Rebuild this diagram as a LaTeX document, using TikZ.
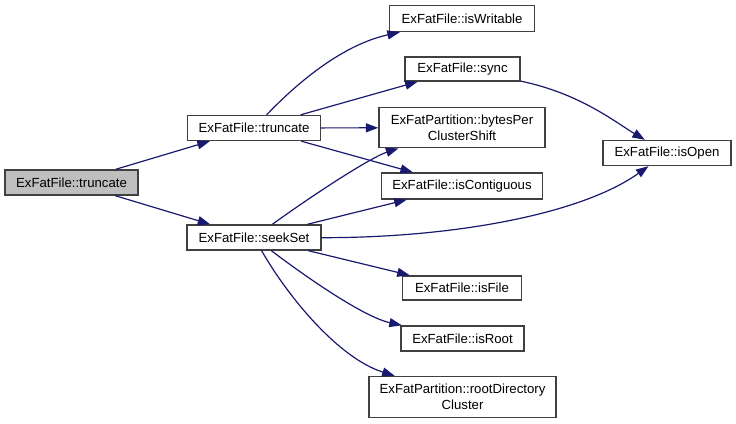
\documentclass[tikz,border=0pt]{standalone}
\usepackage{fontspec}
\setmainfont{Liberation Sans}
\usetikzlibrary{arrows.meta}
\definecolor{edgecol}{HTML}{191970}
\definecolor{nodeborder}{HTML}{404040}
\definecolor{rootfill}{HTML}{BFBFBF}
\tikzset{
  fn/.style={draw=nodeborder, line width=1.4pt, rectangle, inner sep=0pt, align=center,
    font=\fontsize{13.2}{16}\selectfont, fill=white},
  rootfn/.style={fn, fill=rootfill},
  call/.style={draw=edgecol, line width=1.2pt, -{Triangle[length=12.5pt,width=9pt]}},
}
\begin{document}
\begin{tikzpicture}[x=1pt,y=-1pt]
\useasboundingbox (0,0) rectangle (736,423);
\node[rootfn, minimum width=133pt, minimum height=25pt] (root) at (71.5,182.5) {ExFatFile::truncate};
\node[fn, minimum width=133pt, minimum height=25pt] (trunc) at (254,128) {ExFatFile::truncate};
\node[fn, minimum width=134pt, minimum height=25pt] (seek) at (254,237.5) {ExFatFile::seekSet};
\node[fn, minimum width=145pt, minimum height=26pt] (isW) at (462,18.5) {ExFatFile::isWritable};
\node[fn, minimum width=115pt, minimum height=24pt] (sync) at (462.5,69) {ExFatFile::sync};
\node[fn, minimum width=166pt, minimum height=40pt] (bytes) at (462,127.7) {ExFatPartition::bytesPer\\ClusterShift};
\node[fn, minimum width=161pt, minimum height=26pt] (isC) at (462,186) {ExFatFile::isContiguous};
\node[fn, minimum width=128pt, minimum height=25pt] (isOpen) at (667,153) {ExFatFile::isOpen};
\node[fn, minimum width=119pt, minimum height=24pt] (isFile) at (462,288) {ExFatFile::isFile};
\node[fn, minimum width=123pt, minimum height=25pt] (isRoot) at (462.5,338.5) {ExFatFile::isRoot};
\node[fn, minimum width=187pt, minimum height=41pt] (rootDir) at (462.5,397) {ExFatPartition::rootDirectory\\Cluster};

\draw[call] (root) -- (trunc);
\draw[call] (root) -- (seek);
\draw[call] (trunc) .. controls (300,80) and (344,44.5) .. (isW);
\draw[call] (trunc) -- (sync);
\draw[call] (trunc) -- (bytes);
\draw[call] (trunc) -- (isC);
\draw[call] (seek) .. controls (320,190) and (372,157) .. (bytes);
\draw[call] (seek) -- (isC);
\draw[call] (seek) .. controls (450,238) and (580,215) .. (isOpen);
\draw[call] (sync) .. controls (580,93.5) and (615,122) .. (isOpen);
\draw[call] (seek) -- (isFile);
\draw[call] (seek) .. controls (310,280) and (365,317.3) .. (isRoot);
\draw[call] (seek) .. controls (290,300) and (340,358.7) .. (rootDir);
\end{tikzpicture}
\end{document}
